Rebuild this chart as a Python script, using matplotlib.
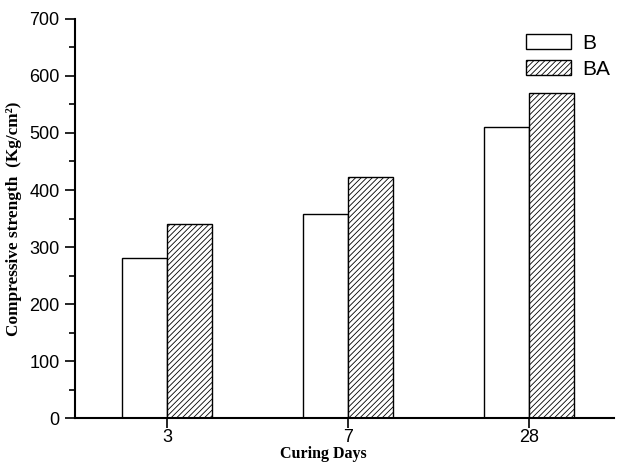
import matplotlib
matplotlib.use("Agg")
import matplotlib.pyplot as plt
import numpy as np
from matplotlib.ticker import MultipleLocator

plt.rcParams['hatch.linewidth'] = 0.6

categories = ["3", "7", "28"]
series_names = ["B", "BA"]
b_values = [281, 358, 511]
ba_values = [341, 423, 571]

fig = plt.figure(figsize=(6.18, 4.62), dpi=100)
ax = fig.add_axes([0.1214, 0.0952, 0.8721, 0.8637])

x = np.arange(len(categories))
w = 0.25
ax.bar(x - w/2, b_values, w, color="white", edgecolor="black", linewidth=1.0, label=series_names[0])
ax.bar(x + w/2, ba_values, w, color="white", edgecolor="black", linewidth=1.0, hatch="//////", label=series_names[1])

ax.set_xlim(-0.51, 2.47)
ax.set_ylim(0, 700)
ax.set_xticks(x)
ax.set_xticklabels(categories)
ax.yaxis.set_major_locator(MultipleLocator(100))
ax.yaxis.set_minor_locator(MultipleLocator(50))

for s in ["top", "right"]:
    ax.spines[s].set_visible(False)
for s in ["left", "bottom"]:
    ax.spines[s].set_linewidth(1.5)

ax.tick_params(axis="y", which="major", direction="out", length=7, width=1.2, labelsize=13, pad=4)
ax.tick_params(axis="x", which="major", direction="out", length=7, width=1.2, labelsize=13, pad=1)
ax.tick_params(axis="y", which="minor", direction="out", length=4, width=1.2)
for lab in ax.get_xticklabels() + ax.get_yticklabels():
    lab.set_family("Liberation Sans")

ax.set_ylabel("Compressive strength  (Kg/cm²)", fontfamily="Liberation Serif", fontweight="bold", fontsize=12.4)
ax.set_xlabel("Curing Days", fontfamily="Liberation Serif", fontweight="bold", fontsize=11.5,
              va="bottom")
ax.xaxis.set_label_coords(0.46, -0.109)
ax.yaxis.set_label_coords(-0.098, 0.5)

leg = ax.legend(loc="upper right", bbox_to_anchor=(1.019, 1.0), frameon=False,
                prop={"family": "Liberation Sans", "size": 15},
                handlelength=2.16, handleheight=0.72, handletextpad=0.5, labelspacing=0.35,
                borderpad=0.2)

fig.savefig("out.png", dpi=100)
